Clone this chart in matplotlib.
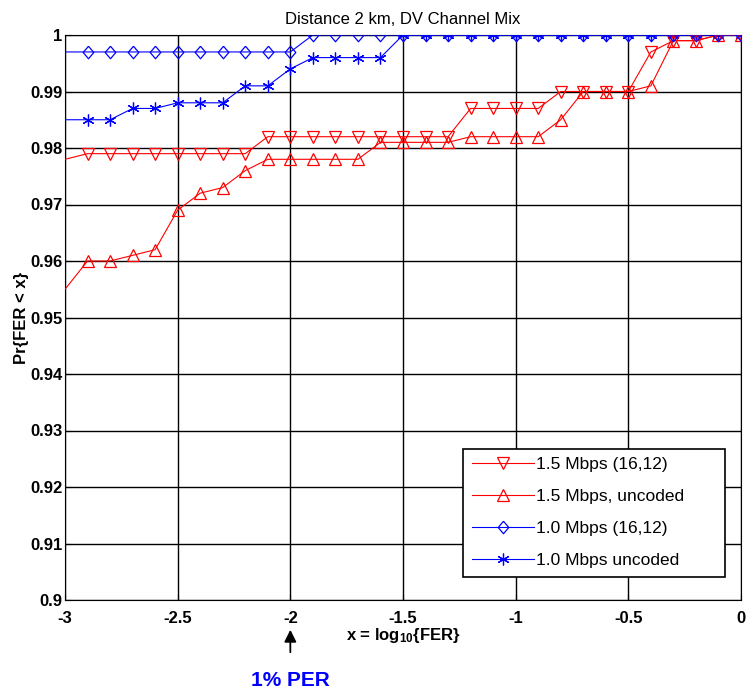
import numpy as np
import matplotlib
matplotlib.use('Agg')
from matplotlib import pyplot as plt

plt.rcParams['font.family'] = ['Liberation Sans', 'DejaVu Sans']
plt.rcParams['axes.unicode_minus'] = False
plt.rcParams['mathtext.default'] = 'regular'

# x = log10(FER), sampled every 0.1
x = [-3.0, -2.9, -2.8, -2.7, -2.6, -2.5, -2.4, -2.3, -2.2, -2.1,
     -2.0, -1.9, -1.8, -1.7, -1.6, -1.5, -1.4, -1.3, -1.2, -1.1,
     -1.0, -0.9, -0.8, -0.7, -0.6, -0.5, -0.4, -0.3, -0.2, -0.1, 0.0]

coded_15 = [0.978, 0.979, 0.979, 0.979, 0.979, 0.979, 0.979, 0.979, 0.979, 0.982,
            0.982, 0.982, 0.982, 0.982, 0.982, 0.982, 0.982, 0.982, 0.987, 0.987,
            0.987, 0.987, 0.990, 0.990, 0.990, 0.990, 0.997, 0.999, 0.999, 1.0, 1.0]
uncoded_15 = [0.955, 0.960, 0.960, 0.961, 0.962, 0.969, 0.972, 0.973, 0.976, 0.978,
              0.978, 0.978, 0.978, 0.978, 0.981, 0.981, 0.981, 0.981, 0.982, 0.982,
              0.982, 0.982, 0.985, 0.990, 0.990, 0.990, 0.991, 0.999, 0.999, 1.0, 1.0]
coded_10 = [0.997, 0.997, 0.997, 0.997, 0.997, 0.997, 0.997, 0.997, 0.997, 0.997,
            0.997, 1.0, 1.0, 1.0, 1.0, 1.0, 1.0, 1.0, 1.0, 1.0,
            1.0, 1.0, 1.0, 1.0, 1.0, 1.0, 1.0, 1.0, 1.0, 1.0, 1.0]
uncoded_10 = [0.985, 0.985, 0.985, 0.987, 0.987, 0.988, 0.988, 0.988, 0.991, 0.991,
              0.994, 0.996, 0.996, 0.996, 0.996, 1.0, 1.0, 1.0, 1.0, 1.0,
              1.0, 1.0, 1.0, 1.0, 1.0, 1.0, 1.0, 1.0, 1.0, 1.0, 1.0]

labels = ['1.5 Mbps (16,12)', '1.5 Mbps, uncoded', '1.0 Mbps (16,12)', '1.0 Mbps uncoded']

xticks = [-3, -2.5, -2, -1.5, -1, -0.5, 0]
xticklabels = ['-3', '-2.5', '-2', '-1.5', '-1', '-0.5', '0']
yticks = [0.90, 0.91, 0.92, 0.93, 0.94, 0.95, 0.96, 0.97, 0.98, 0.99, 1.0]
yticklabels = ['0.9', '0.91', '0.92', '0.93', '0.94', '0.95', '0.96', '0.97', '0.98', '0.99', '1']

fig = plt.figure(figsize=(7.48, 6.89), dpi=100)
ax = fig.add_axes([65 / 748, 1 - 600 / 689, 676 / 748, 565 / 689])

# matlab-ish diamond, a bit taller than wide
diamond = [(0, 1), (0.85, 0), (0, -1), (-0.85, 0), (0, 1)]

mk = slice(1, None)
lw = 0.8
ax.plot(x, uncoded_10, color='#0000ff', lw=lw, marker=(6, 2, 0), ms=8.5, mew=0.9,
        markevery=mk, label=labels[3], zorder=3)
ax.plot(x, coded_10, color='#0000ff', lw=lw, marker=diamond, ms=9, mfc='none', mew=0.9,
        markevery=mk, label=labels[2], zorder=4)
ax.plot(x, uncoded_15, color='#ff0000', lw=lw, marker='^', ms=9, mfc='none', mew=0.9,
        markevery=mk, label=labels[1], zorder=3)
ax.plot(x, coded_15, color='#ff0000', lw=lw, marker='v', ms=9, mfc='none', mew=0.9,
        markevery=mk, label=labels[0], zorder=3)

ax.set_xlim(-3, 0)
ax.set_ylim(0.9, 1.0)
ax.set_xticks(xticks)
ax.set_xticklabels(xticklabels, fontsize=12, fontweight='bold')
ax.set_yticks(yticks)
ax.set_yticklabels(yticklabels, fontsize=12, fontweight='bold')
ax.tick_params(direction='in', length=4, width=0.8)
ax.tick_params(axis='x', pad=8)
ax.tick_params(axis='y', pad=2)
ax.grid(True, color='black', linestyle='-', linewidth=1.0)
ax.set_axisbelow(True)
for s in ax.spines.values():
    s.set_linewidth(0.8)

ax.set_title('Distance 2 km, DV Channel Mix', fontsize=12, pad=8)
ax.set_xlabel('x = log$_{10}${FER}', fontsize=12, fontweight='bold', labelpad=0)
ax.set_ylabel('Pr{FER < x}', fontsize=12, fontweight='bold', labelpad=1)

h, l = ax.get_legend_handles_labels()
order = [3, 2, 1, 0]
leg = ax.legend([h[i] for i in order], [l[i] for i in order],
                loc='lower left', bbox_to_anchor=(0.589, 0.0407, 0.3876, 0.2265),
                mode='expand', borderaxespad=0,
                fontsize=12.5, handlelength=3.6, handletextpad=0.1,
                labelspacing=0.97, borderpad=0.5, fancybox=False, framealpha=1)
leg.get_frame().set_edgecolor('black')
leg.get_frame().set_linewidth(1.2)

# arrow + note below the axis, positioned in figure pixels
ax.annotate('', xy=(-2, 62), xytext=(-2, 34), xycoords=('data', 'figure pixels'),
            textcoords=('data', 'figure pixels'), annotation_clip=False,
            arrowprops=dict(arrowstyle='-|>', color='black', lw=1.3, mutation_scale=18))
ax.annotate('1% PER', xy=(-2, 3), xycoords=('data', 'figure pixels'),
            color='#0000ff', fontsize=15, fontweight='bold',
            ha='center', va='baseline', annotation_clip=False)

fig.savefig('out.png', dpi=100)
